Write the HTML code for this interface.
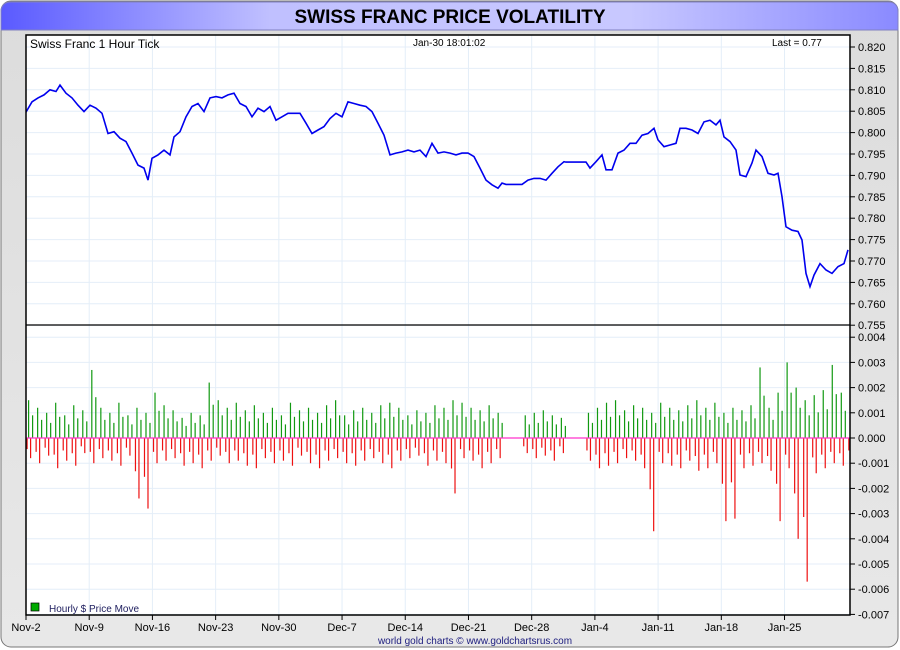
<!DOCTYPE html>
<html><head><meta charset="utf-8"><style>
body{margin:0;background:#fff;font-family:"Liberation Sans",sans-serif}
#wrap{position:relative;width:900px;height:650px;overflow:hidden}
</style></head><body>
<div id="wrap">
<svg id="svg" width="900" height="650" xmlns="http://www.w3.org/2000/svg">
<defs>
<linearGradient id="tg" x1="0" x2="1" y1="0" y2="0">
<stop offset="0" stop-color="#5a5aff"/><stop offset="0.3" stop-color="#c0c0ff"/><stop offset="0.7" stop-color="#c8c8ff"/><stop offset="1" stop-color="#8a8aff"/>
</linearGradient>
<linearGradient id="bg" x1="0" x2="0" y1="0" y2="1"><stop offset="0" stop-color="#dcdcdc"/><stop offset="1" stop-color="#e8e8e8"/></linearGradient>
<clipPath id="pc"><rect x="26" y="35" width="824" height="580"/></clipPath>
</defs>
<rect x="1" y="1" width="897" height="646" rx="10" fill="url(#bg)" stroke="#777"/>
<path d="M1,30 L1,12 Q1,2 11,2 L888,2 Q898,2 898,12 L898,30 Z" fill="url(#tg)" stroke="#8080c0"/>
<text x="450" y="23" text-anchor="middle" font-size="19" font-weight="bold" fill="#000">SWISS FRANC PRICE VOLATILITY</text>
<rect x="26" y="35" width="824" height="580" fill="#fff"/>
<g id="grid"></g>
<g id="bars" clip-path="url(#pc)"></g>
<g id="line" clip-path="url(#pc)"></g>
<g id="axes"></g>
<rect x="26" y="35" width="824" height="580" fill="none" stroke="#000" stroke-width="1.5"/>
<line x1="26" y1="325" x2="850" y2="325" stroke="#000" stroke-width="1.2"/>
<text x="30" y="48" font-size="12">Swiss Franc 1 Hour Tick</text>
<text x="413" y="46" font-size="10">Jan-30  18:01:02</text>
<text x="772" y="46" font-size="10">Last = 0.77</text>
<rect x="31" y="603" width="8" height="8" fill="#0a0" stroke="#000" stroke-width="0.7"/>
<text x="49" y="612" font-size="10" fill="#202060">Hourly $ Price Move</text>
<text x="475" y="644" text-anchor="middle" font-size="10" fill="#202080">world gold charts © www.goldchartsrus.com</text>
</svg>
</div>
<script>
const priceDays=[0,0.66,1.33,1.99,2.66,3.32,3.77,4.43,5.09,5.76,6.42,7.09,7.75,8.42,9.08,9.75,10.41,11.07,11.74,12.40,13.07,13.51,13.95,14.62,15.28,15.95,16.39,17.05,17.72,18.38,19.05,19.71,20.38,21.04,21.71,22.37,23.03,23.70,24.36,25.03,25.69,26.36,27.02,27.69,28.35,29.01,29.68,30.34,31.01,31.67,32.34,33.00,33.67,34.33,34.99,35.66,36.32,36.99,37.65,38.32,38.98,39.65,40.31,40.97,41.64,42.30,42.97,43.63,44.30,44.96,45.63,46.29,46.95,47.62,48.28,48.95,49.61,50.28,50.94,51.61,52.27,52.71,53.16,54.93,55.59,56.26,56.92,57.59,58.25,58.91,59.58,59.80,62.02,62.46,63.12,63.79,64.23,64.89,65.56,66.22,66.89,67.55,68.22,68.88,69.55,69.99,70.65,71.32,71.98,72.43,73.09,73.75,74.42,75.08,75.75,76.41,76.86,77.30,77.96,78.63,79.07,79.73,80.40,80.84,81.51,82.17,82.84,83.28,83.72,84.16,84.83,85.49,85.94,86.38,86.82,87.26,87.93,88.59,89.26,89.92,90.59,91.03];
const priceVals=[0.8048,0.8072,0.8081,0.8088,0.8100,0.8096,0.8111,0.8092,0.8081,0.8064,0.8049,0.8064,0.8057,0.8045,0.7998,0.8002,0.7987,0.7979,0.7952,0.7924,0.7917,0.7889,0.7940,0.7948,0.7959,0.7948,0.7990,0.8002,0.8037,0.8061,0.8068,0.8049,0.8081,0.8084,0.8081,0.8088,0.8092,0.8068,0.8061,0.8037,0.8057,0.8049,0.8061,0.8029,0.8037,0.8045,0.8045,0.8045,0.8022,0.7998,0.8006,0.8014,0.8033,0.8045,0.8037,0.8072,0.8068,0.8064,0.8061,0.8049,0.8022,0.7994,0.7948,0.7952,0.7955,0.7959,0.7955,0.7959,0.7944,0.7975,0.7952,0.7955,0.7952,0.7948,0.7952,0.7952,0.7944,0.7917,0.7889,0.7878,0.7870,0.7882,0.7879,0.7879,0.7889,0.7893,0.7893,0.7889,0.7905,0.7920,0.7932,0.7931,0.7931,0.7917,0.7932,0.7948,0.7913,0.7913,0.7952,0.7959,0.7975,0.7975,0.7994,0.7998,0.8010,0.7983,0.7967,0.7971,0.7975,0.8010,0.8010,0.8006,0.7998,0.8025,0.8029,0.8018,0.8029,0.7990,0.7979,0.7959,0.7901,0.7897,0.7929,0.7959,0.7944,0.7905,0.7901,0.7905,0.7850,0.7780,0.7772,0.7769,0.7749,0.7671,0.7640,0.7667,0.7694,0.7679,0.7671,0.7687,0.7694,0.7726];
const upMoves=[15,12,10,14,9,13,11,27,12,10,
14,9,12,10,18,13,11,8,10,9,
22,15,12,14,11,13,10,12,9,14,
11,12,10,13,15,9,11,12,10,13,
14,12,9,11,10,13,12,15,14,12,
11,13,10,null,null,9,10,11,9,8,
null,null,10,12,14,15,11,13,12,10,
14,12,11,13,15,12,14,10,12,11,
13,28,12,18,30,20,15,17,19,29,
18,14];
const downMoves=[-8,-10,-7,-12,-9,-11,-6,-10,-8,-9,
-11,-7,-24,-28,-10,-9,-8,-11,-10,-12,
-9,-7,-10,-9,-11,-12,-8,-10,-9,-11,
-7,-10,-12,-9,-8,-10,-11,-9,-8,-10,
-12,-9,-8,-7,-11,-9,-10,-22,-8,-9,
-12,-10,-8,null,null,-6,-8,-7,-9,-6,
null,null,-9,-12,-11,-10,-8,-9,-12,-37,
-10,-11,-12,-9,-13,-12,-10,-33,-32,-12,
-11,-10,-13,-33,-12,-40,-57,-14,-12,-10,
-11,-9];
const priceTicks=["0.820","0.815","0.810","0.805","0.800","0.795","0.790","0.785","0.780","0.775","0.770","0.765","0.760","0.755"];
const moveTicks=["0.004","0.003","0.002","0.001","0.000","-0.001","-0.002","-0.003","-0.004","-0.005","-0.006","-0.007"];
const dateLabels=["Nov-2","Nov-9","Nov-16","Nov-23","Nov-30","Dec-7","Dec-14","Dec-21","Dec-28","Jan-4","Jan-11","Jan-18","Jan-25"];

const NS="http://www.w3.org/2000/svg";
const X0=26,DAYPX=9.03;
const xDay=d=>X0+d*DAYPX;
const yPrice=v=>47+(0.820-v)/0.005*21.4;
const yMove=v=>438-v*25200;
function mk(tag,attrs,parent){const e=document.createElementNS(NS,tag);for(const k in attrs)e.setAttribute(k,attrs[k]);parent.appendChild(e);return e;}
const grid=document.getElementById('grid'),axes=document.getElementById('axes'),bars=document.getElementById('bars'),lineG=document.getElementById('line');
priceTicks.forEach(t=>{const y=yPrice(parseFloat(t));
 const g=mk('line',{x1:26,x2:850,y1:y,y2:y,stroke:'#e4eef8'},grid);
 
 
 mk('line',{x1:850,x2:855,y1:y,y2:y,stroke:'#000'},axes);
 const tx=mk('text',{x:858,y:y+4,'font-size':11},axes);tx.textContent=t;
 
 
});
moveTicks.forEach(t=>{const y=yMove(parseFloat(t));
 const g=mk('line',{x1:26,x2:850,y1:y,y2:y,stroke:'#e4eef8'},grid);
 
 
 mk('line',{x1:850,x2:855,y1:y,y2:y,stroke:'#000'},axes);
 const tx=mk('text',{x:858,y:y+4,'font-size':11},axes);tx.textContent=t;
 
 
});
dateLabels.forEach((t,i)=>{const x=xDay(i*7);
 const g=mk('line',{x1:x,x2:x,y1:35,y2:615,stroke:'#e4eef8'},grid);
 
 
 mk('line',{x1:x,x2:x,y1:615,y2:620,stroke:'#000'},axes);
 const tx=mk('text',{x:x,y:631,'font-size':11,'text-anchor':'middle'},axes);tx.textContent=t;
 
 
});
upMoves.forEach((v,i)=>{if(v==null)return;const x=xDay(i)+2;const y=yMove(v/10000);
 const b=mk('rect',{x:x,y:y,width:1.2,height:438-y,fill:'#119911'},bars);
 
 
 const x2=xDay(i)+6,y2=yMove(v*0.6/10000);
 const b2=mk('rect',{x:x2,y:y2,width:1.2,height:438-y2,fill:'#119911'},bars);
 
 
});
downMoves.forEach((v,i)=>{if(v==null)return;const x=xDay(i)+4;const y=yMove(v/10000);
 const b=mk('rect',{x:x,y:438,width:1.2,height:y-438,fill:'#ee1111'},bars);
 
 
 const x2=xDay(i)+0.5,y2=yMove(v*0.55/10000);
 const b2=mk('rect',{x:x2,y:438,width:1.2,height:y2-438,fill:'#ee1111'},bars);
 
 
});
const zl=mk('line',{x1:26,x2:850,y1:438,y2:438,stroke:'#ff33cc','stroke-width':1.2},bars);


const pts=priceDays.map((d,i)=>xDay(d).toFixed(1)+','+yPrice(priceVals[i]).toFixed(1)).join(' ');
const pl=mk('polyline',{points:pts,fill:'none',stroke:'#0000ee','stroke-width':1.6},lineG);


</script>
</body></html>
